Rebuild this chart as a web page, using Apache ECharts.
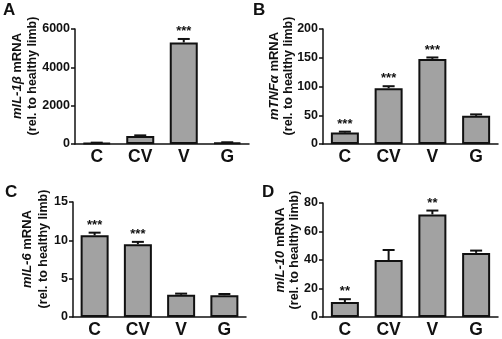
<!DOCTYPE html>
<html>
<head>
<meta charset="utf-8">
<script src="https://cdn.jsdelivr.net/npm/echarts@6/dist/echarts.min.js"></script>
<style>
  html, body { margin: 0; padding: 0; background: #fff; }
  #main { width: 502px; height: 339px; }
</style>
</head>
<body>
<div id="main"></div>
<script>
var categories = ['C', 'CV', 'V', 'G'];

// A: mIL-1b
var il1bMean = [60, 420, 5300, 80];
var il1bErr = [10, 30, 180, 10];
var il1bSig = ['', '', '***', ''];
// B: mTNFa
var tnfMean = [20, 97, 148, 49];
var tnfErr = [1.5, 3.5, 2.5, 2.5];
var tnfSig = ['***', '***', '***', ''];
// C: mIL-6
var il6Mean = [10.65, 9.5, 2.9, 2.85];
var il6Err = [0.35, 0.3, 0.15, 0.15];
var il6Sig = ['***', '***', '', ''];
// D: mIL-10
var il10Mean = [10.5, 40, 72, 45];
var il10Err = [2, 7, 2.7, 1.6];
var il10Sig = ['**', '', '**', ''];

var yMax = [6000, 200, 15, 80];
var yStep = [2000, 50, 5, 20];

var FONT = '"Liberation Sans", Arial, sans-serif';
var INK = '#111';

var grids = [
    {left: 75, top: 29, width: 174, height: 115},
    {left: 323, top: 29, width: 175, height: 115},
    {left: 73, top: 202, width: 173, height: 115},
    {left: 323, top: 203, width: 175, height: 115}
];

function xAxisFor(i) {
    return {
        type: 'category',
        gridIndex: i,
        data: categories,
        axisLine: {lineStyle: {color: INK, width: 1.5}},
        axisTick: {alignWithLabel: true, length: 4, lineStyle: {color: INK, width: 1.5}},
        axisLabel: {color: INK, fontFamily: FONT, fontWeight: 'bold', fontSize: 17.5, margin: 4}
    };
}
function yAxisFor(i) {
    return {
        type: 'value',
        gridIndex: i,
        min: 0,
        max: yMax[i],
        interval: yStep[i],
        splitLine: {show: false},
        axisLine: {show: true, lineStyle: {color: INK, width: 1.5}},
        axisTick: {show: true, length: 4, lineStyle: {color: INK, width: 1.5}},
        axisLabel: {color: INK, fontFamily: FONT, fontWeight: 'bold', fontSize: 12.5, margin: 5,
            formatter: function (v) { return String(v); }}
    };
}
function barFor(i, values) {
    return {
        type: 'bar',
        xAxisIndex: i,
        yAxisIndex: i,
        data: values,
        barWidth: 28,
        itemStyle: {color: '#a2a2a2', borderColor: INK, borderWidth: 2},
        silent: true
    };
}
function errFor(i, values, errs, sigs) {
    var data = values.map(function (v, k) { return [k, v, errs[k]]; });
    return {
        type: 'custom',
        xAxisIndex: i,
        yAxisIndex: i,
        data: data,
        z: 5,
        silent: true,
        renderItem: function (params, api) {
            var k = api.value(0);
            var base = api.coord([k, api.value(1)]);
            var top = api.coord([k, api.value(1) + api.value(2)]);
            var children = [
                {type: 'line', shape: {x1: base[0], y1: base[1], x2: top[0], y2: top[1]},
                    style: {stroke: INK, lineWidth: 2}},
                {type: 'line', shape: {x1: top[0] - 6, y1: top[1], x2: top[0] + 6, y2: top[1]},
                    style: {stroke: INK, lineWidth: 2}}
            ];
            var s = sigs[params.dataIndex];
            if (s) {
                children.push({type: 'text', x: top[0], y: top[1] - 1,
                    style: {text: s, fill: INK, font: 'bold 13px ' + FONT,
                        textAlign: 'center', textVerticalAlign: 'bottom'}});
            }
            return {type: 'group', children: children};
        }
    };
}

function yTitle(x1, x2, yc, name) {
    var rich = {i: {fontStyle: 'italic', fontWeight: 'bold', fontSize: 13, fontFamily: FONT, fill: INK}};
    return [
        {type: 'text', x: x1, y: yc, rotation: Math.PI / 2,
            style: {text: '{i|' + name + '} mRNA', fill: INK, font: 'bold 13px ' + FONT,
                textAlign: 'center', textVerticalAlign: 'middle', rich: rich}},
        {type: 'text', x: x2, y: yc, rotation: Math.PI / 2,
            style: {text: '(rel. to healthy limb)', fill: INK, font: 'bold 12.5px ' + FONT,
                textAlign: 'center', textVerticalAlign: 'middle'}}
    ];
}
function letter(x, y, t) {
    return {type: 'text', x: x, y: y,
        style: {text: t, fill: INK, font: 'bold 17px ' + FONT, textAlign: 'left', textVerticalAlign: 'top'}};
}

var chart = echarts.init(document.getElementById('main'));
var option = {
    animation: false,
    backgroundColor: '#fff',
    grid: grids,
    xAxis: [xAxisFor(0), xAxisFor(1), xAxisFor(2), xAxisFor(3)],
    yAxis: [yAxisFor(0), yAxisFor(1), yAxisFor(2), yAxisFor(3)],
    series: [
        barFor(0, il1bMean), errFor(0, il1bMean, il1bErr, il1bSig),
        barFor(1, tnfMean), errFor(1, tnfMean, tnfErr, tnfSig),
        barFor(2, il6Mean), errFor(2, il6Mean, il6Err, il6Sig),
        barFor(3, il10Mean), errFor(3, il10Mean, il10Err, il10Sig)
    ],
    graphic: [
        letter(3, 2, 'A'), letter(253, 2, 'B'), letter(5, 184, 'C'), letter(262, 184, 'D')
    ].concat(yTitle(17, 33, 76, 'mIL-1β'))
     .concat(yTitle(274, 289, 76, 'mTNFα'))
     .concat(yTitle(27, 44, 249, 'mIL-6'))
     .concat(yTitle(280, 295, 250, 'mIL-10'))
};
chart.setOption(option);
</script>
</body>
</html>
